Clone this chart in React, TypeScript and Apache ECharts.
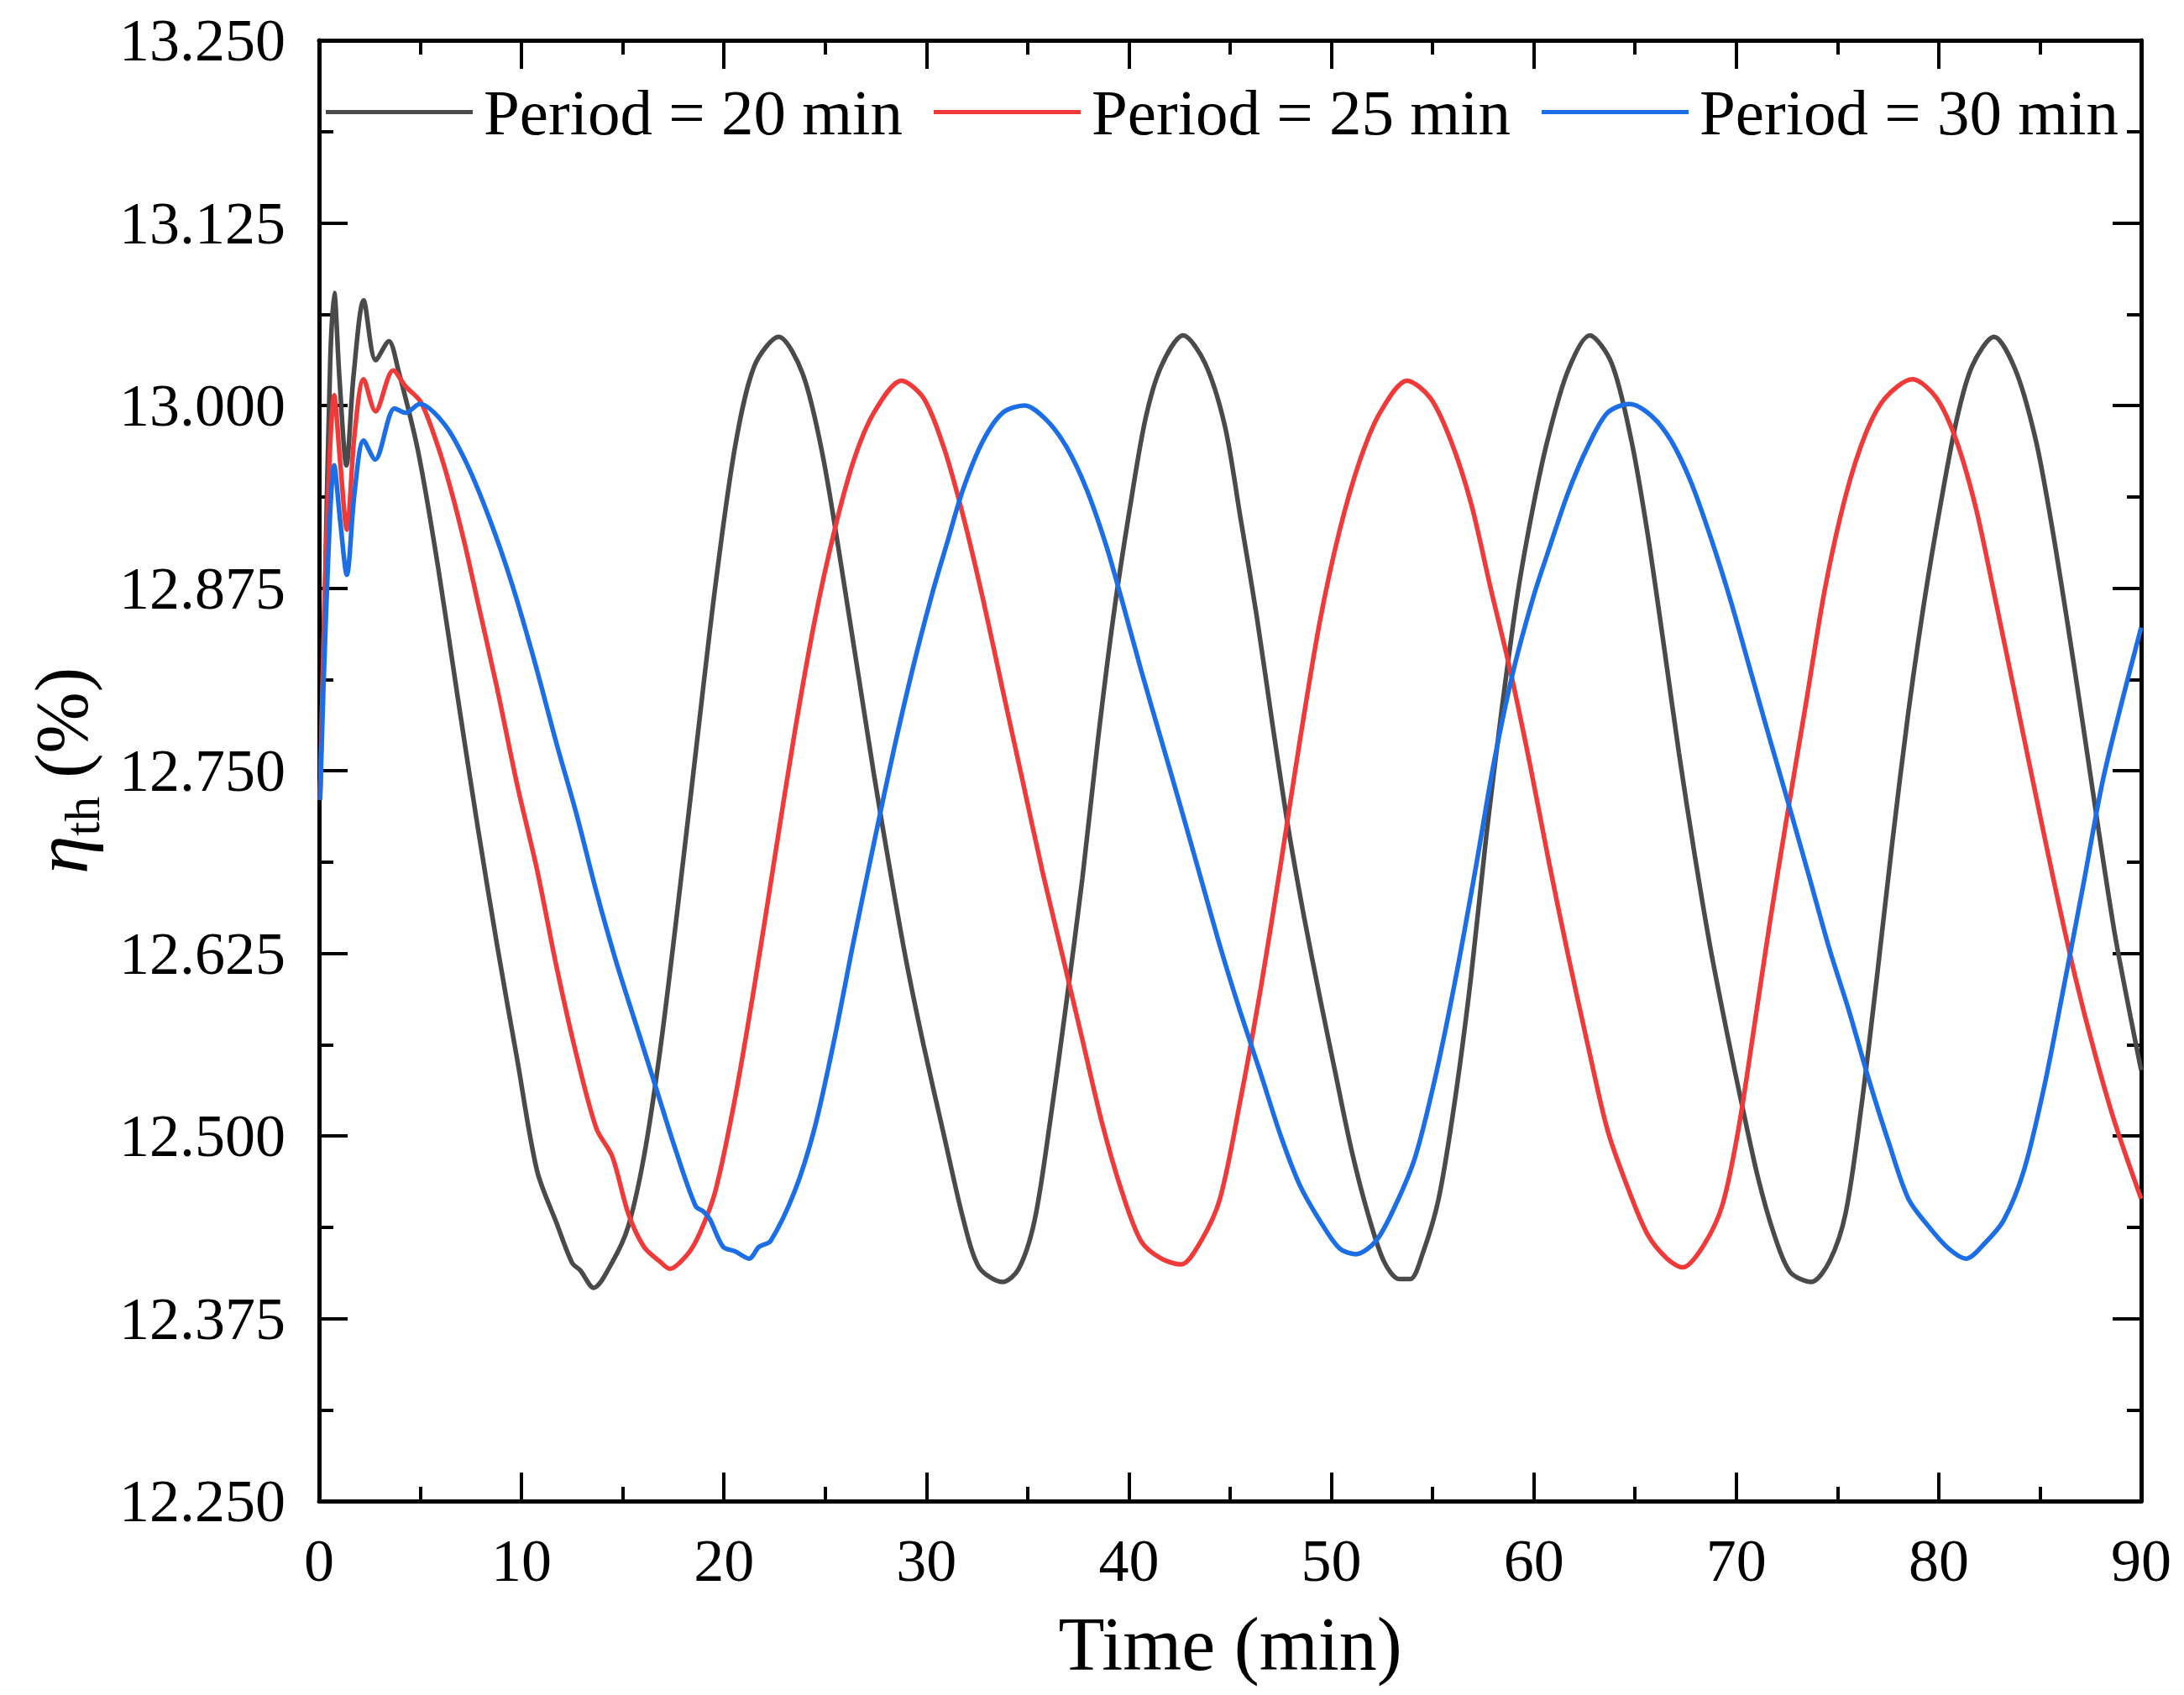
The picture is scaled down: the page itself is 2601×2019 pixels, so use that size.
import React, { useEffect, useRef } from 'react';
import * as echarts from 'echarts';

type EChartsOption = echarts.EChartsOption;

// legend names
const seriesNames = ['Period = 20 min', 'Period = 25 min', 'Period = 30 min'];

// Period = 20 min
const time20 = [0.05, 0.3, 0.55, 0.75, 1.0, 1.35, 1.7, 2.2, 2.8, 3.45, 3.9, 4.9, 5.87, 6.85, 7.83, 8.8, 9.79, 10.77, 11.74, 12.5, 12.9, 13.56, 14.5, 15.27, 16.05, 16.83, 17.6, 18.6, 19.57, 20.55, 21.5, 22.7, 23.88, 24.86, 25.84, 27.4, 28.2, 28.97, 29.86, 30.84, 31.82, 32.6, 33.77, 34.56, 35.34, 36.1, 36.9, 37.7, 38.47, 39.25, 40.04, 40.82, 41.6, 42.68, 43.76, 44.74, 45.5, 46.3, 47.1, 47.87, 48.65, 49.43, 50.2, 51.0, 51.8, 52.6, 53.35, 53.9, 54.5, 55.3, 56.1, 56.9, 57.65, 58.4, 59.2, 60.0, 60.71, 61.69, 62.76, 63.84, 64.82, 65.6, 66.4, 67.17, 67.95, 68.73, 69.52, 70.3, 71.08, 71.86, 72.65, 73.7, 74.6, 75.4, 76.17, 76.95, 77.7, 78.5, 79.3, 80.1, 80.9, 81.65, 82.73, 83.8, 84.8, 85.57, 86.35, 87.13, 87.9, 88.7, 89.48, 90];
const eta20 = [12.735, 12.88, 13.03, 13.077, 13.02, 12.959, 13.02, 13.072, 13.031, 13.044, 13.025, 12.968, 12.89, 12.8, 12.712, 12.63, 12.552, 12.476, 12.44, 12.413, 12.408, 12.396, 12.414, 12.438, 12.486, 12.557, 12.643, 12.762, 12.876, 12.972, 13.027, 13.047, 13.022, 12.967, 12.886, 12.748, 12.682, 12.622, 12.562, 12.502, 12.443, 12.41, 12.4, 12.409, 12.442, 12.509, 12.59, 12.676, 12.771, 12.857, 12.929, 12.991, 13.027, 13.048, 13.029, 12.986, 12.924, 12.857, 12.781, 12.711, 12.65, 12.595, 12.543, 12.49, 12.447, 12.414, 12.402, 12.402, 12.419, 12.457, 12.524, 12.609, 12.705, 12.79, 12.871, 12.933, 12.978, 13.024, 13.048, 13.029, 12.976, 12.914, 12.838, 12.762, 12.692, 12.628, 12.572, 12.52, 12.471, 12.433, 12.407, 12.4, 12.414, 12.447, 12.519, 12.609, 12.7, 12.79, 12.867, 12.933, 12.991, 13.027, 13.047, 13.024, 12.976, 12.919, 12.852, 12.781, 12.709, 12.638, 12.581, 12.545];

// Period = 25 min
const time25 = [0.05, 0.35, 0.75, 1.05, 1.37, 1.75, 2.2, 2.79, 3.66, 4.28, 5.04, 5.87, 6.5, 7.2, 7.83, 8.8, 9.79, 10.77, 11.74, 12.72, 13.7, 14.48, 15.27, 16.05, 16.83, 17.32, 18.2, 18.79, 19.57, 20.55, 21.53, 22.5, 23.49, 24.47, 25.45, 26.4, 27.4, 28.77, 29.86, 30.84, 31.82, 32.8, 33.77, 34.75, 35.73, 36.71, 37.7, 38.67, 39.65, 40.6, 41.6, 42.58, 43.56, 44.5, 45.5, 46.5, 47.5, 48.45, 49.43, 50.4, 51.4, 52.4, 53.74, 54.9, 55.9, 56.9, 57.85, 58.83, 59.8, 60.71, 61.69, 62.67, 63.64, 64.6, 65.6, 66.58, 67.36, 68.34, 69.3, 70.1, 70.9, 71.67, 72.45, 73.43, 74.4, 75.4, 76.4, 77.35, 78.7, 79.9, 80.87, 81.85, 82.8, 83.8, 84.8, 85.8, 86.74, 87.7, 88.7, 90];
const eta25 = [12.73, 12.9, 13.007, 12.96, 12.915, 12.98, 13.018, 12.996, 13.024, 13.013, 13.002, 12.972, 12.943, 12.905, 12.866, 12.806, 12.74, 12.682, 12.615, 12.555, 12.505, 12.486, 12.447, 12.424, 12.414, 12.409, 12.419, 12.433, 12.462, 12.526, 12.605, 12.69, 12.776, 12.852, 12.914, 12.962, 12.995, 13.017, 13.005, 12.972, 12.924, 12.867, 12.805, 12.743, 12.681, 12.624, 12.566, 12.509, 12.462, 12.428, 12.416, 12.412, 12.428, 12.457, 12.524, 12.6, 12.686, 12.771, 12.852, 12.914, 12.962, 12.995, 13.017, 13.005, 12.976, 12.933, 12.876, 12.819, 12.755, 12.69, 12.624, 12.562, 12.504, 12.466, 12.433, 12.416, 12.41, 12.424, 12.452, 12.504, 12.576, 12.647, 12.714, 12.795, 12.876, 12.938, 12.981, 13.005, 13.018, 13.005, 12.976, 12.929, 12.867, 12.8, 12.733, 12.667, 12.609, 12.557, 12.509, 12.457];

// Period = 30 min
const time30 = [0.05, 0.35, 0.75, 1.05, 1.37, 1.75, 2.2, 2.77, 3.73, 4.28, 4.97, 6.2, 7.3, 8.43, 9.5, 10.6, 11.74, 12.72, 13.7, 14.68, 15.66, 16.64, 17.62, 18.6, 19.0, 19.3, 19.96, 20.55, 21.24, 21.73, 22.3, 23.49, 24.47, 25.45, 26.4, 27.4, 28.4, 29.36, 30.3, 31.0, 31.82, 32.8, 33.77, 34.85, 35.93, 36.9, 37.9, 38.86, 39.65, 40.6, 41.6, 42.58, 43.56, 44.54, 45.5, 46.5, 47.5, 48.45, 49.43, 50.4, 51.2, 52.2, 53.15, 54.13, 55.1, 56.1, 57.1, 58.05, 59.0, 60.0, 60.71, 61.69, 62.67, 63.64, 64.72, 65.8, 66.78, 67.75, 68.73, 69.71, 70.69, 71.67, 72.65, 73.63, 74.6, 75.58, 76.56, 77.54, 78.5, 79.5, 80.48, 81.36, 82.24, 83.2, 84.2, 85.2, 86.15, 87.13, 88.1, 89.1, 90];
const eta30 = [12.73, 12.86, 12.959, 12.92, 12.884, 12.94, 12.976, 12.963, 12.998, 12.995, 13.001, 12.987, 12.96, 12.922, 12.879, 12.827, 12.768, 12.72, 12.667, 12.619, 12.576, 12.533, 12.49, 12.452, 12.448, 12.443, 12.424, 12.421, 12.416, 12.424, 12.428, 12.462, 12.505, 12.566, 12.633, 12.7, 12.765, 12.822, 12.872, 12.905, 12.943, 12.976, 12.995, 13.0, 12.99, 12.972, 12.943, 12.905, 12.867, 12.819, 12.771, 12.724, 12.676, 12.628, 12.585, 12.543, 12.5, 12.466, 12.442, 12.423, 12.419, 12.428, 12.452, 12.485, 12.538, 12.605, 12.681, 12.757, 12.819, 12.87, 12.9, 12.94, 12.972, 12.995, 13.001, 12.993, 12.976, 12.948, 12.91, 12.867, 12.819, 12.771, 12.724, 12.676, 12.628, 12.585, 12.538, 12.495, 12.457, 12.438, 12.423, 12.416, 12.426, 12.442, 12.476, 12.533, 12.6, 12.671, 12.743, 12.8, 12.848];

// axis ticks
const xTicks = [0, 10, 20, 30, 40, 50, 60, 70, 80, 90];
const yTickLabels = ['12.250', '12.375', '12.500', '12.625', '12.750', '12.875', '13.000', '13.125', '13.250'];

const colors = ['#4a4a4a', '#f03a3a', '#1c6ee6'];
const font = "'Liberation Serif', 'Times New Roman', serif";

const pairs = (t: number[], v: number[]) => t.map((x, i) => [x, v[i]]);

const App: React.FC = () => {
  const chartRef = useRef<HTMLDivElement>(null);

  useEffect(() => {
    if (!chartRef.current) return;

    const yMin = Number(yTickLabels[0]);
    const yMax = Number(yTickLabels[yTickLabels.length - 1]);
    const yStep = Number(yTickLabels[1]) - yMin;
    const xStep = xTicks[1] - xTicks[0];

    const tick = { show: true, inside: true, length: 34, lineStyle: { color: '#000', width: 4 } };
    const minor = { show: true, splitNumber: 2, length: 17, lineStyle: { color: '#000', width: 4 } };
    const line = { show: true, onZero: false, lineStyle: { color: '#000', width: 5 } };

    const xBase = {
      type: 'value' as const,
      min: xTicks[0],
      max: xTicks[xTicks.length - 1],
      interval: xStep,
      axisLine: line,
      axisTick: tick,
      minorTick: minor,
      splitLine: { show: false },
    };
    const yBase = {
      type: 'value' as const,
      min: yMin,
      max: yMax,
      interval: yStep,
      axisLine: line,
      axisTick: tick,
      minorTick: minor,
      splitLine: { show: false },
    };

    const option: EChartsOption = {
      animation: false,
      backgroundColor: '#fff',
      grid: { left: 380, right: 51, top: 48, bottom: 231, containLabel: false },
      legend: {
        data: seriesNames,
        top: 90,
        left: 383,
        icon: 'rect',
        itemWidth: 175,
        itemHeight: 5,
        itemGap: 37,
        textStyle: { fontFamily: font, fontSize: 77, color: '#000', padding: [0, 0, 0, 8] },
      },
      xAxis: [
        {
          ...xBase,
          position: 'bottom',
          name: 'Time (min)',
          nameLocation: 'middle',
          nameGap: 125,
          nameTextStyle: { fontFamily: font, fontSize: 90, color: '#000' },
          axisLabel: { fontFamily: font, fontSize: 72, color: '#000', margin: 35 },
        },
        { ...xBase, position: 'top', axisLabel: { show: false } },
      ],
      yAxis: [
        {
          ...yBase,
          position: 'left',
          name: '{eta|η}{sub|th}{unit| (%)}',
          nameLocation: 'middle',
          nameRotate: 90,
          nameGap: 252,
          nameTextStyle: {
            fontFamily: font,
            color: '#000',
            rich: {
              eta: { fontFamily: font, fontSize: 92, fontStyle: 'italic', color: '#000' },
              sub: { fontFamily: font, fontSize: 60, color: '#000', padding: [50, 0, 0, 0] },
              unit: { fontFamily: font, fontSize: 88, color: '#000' },
            },
          },
          axisLabel: {
            fontFamily: font,
            fontSize: 72,
            color: '#000',
            margin: 40,
            formatter: (v: number) => v.toFixed(3),
          },
        },
        { ...yBase, position: 'right', axisLabel: { show: false } },
      ],
      series: [
        { data: pairs(time20, eta20) },
        { data: pairs(time25, eta25) },
        { data: pairs(time30, eta30) },
      ].map((s, i) => ({
        name: seriesNames[i],
        type: 'line' as const,
        data: s.data,
        showSymbol: false,
        symbol: 'none',
        smooth: 0.3,
        lineStyle: { color: colors[i], width: 5.5 },
        itemStyle: { color: colors[i] },
      })),
    };

    const myChart = echarts.init(chartRef.current, undefined, { renderer: 'svg' });
    myChart.setOption(option);

    return () => {
      myChart.dispose();
    };
  }, []);

  return (
    <div
      ref={chartRef}
      style={{ position: 'fixed', left: 0, top: 0, width: 2601, height: 2019, background: '#fff' }}
    />
  );
};

export default App;
